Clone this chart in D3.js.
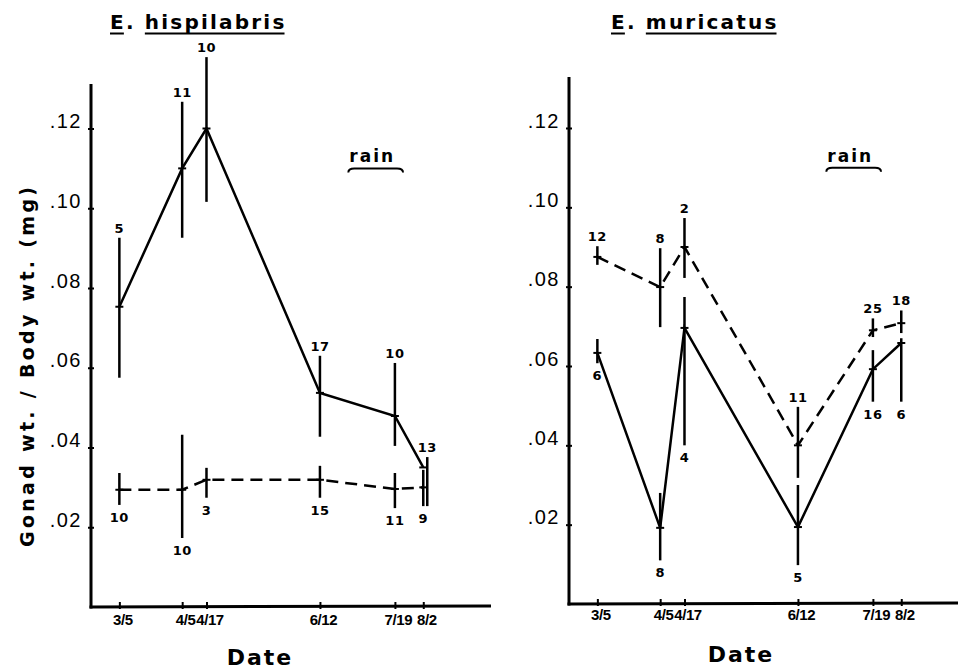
<!DOCTYPE html>
<html><head><meta charset="utf-8">
<script src="https://cdn.jsdelivr.net/npm/d3@7"></script>
<style>html,body{margin:0;padding:0;background:#fff}</style>
</head><body><svg id="chart" width="958" height="669"></svg>
<script>
// ---------- data ----------
const dateLabels = ["3/5", "4/5", "4/17", "6/12", "7/19", "8/2"];
const yTickValues = [0.02, 0.04, 0.06, 0.08, 0.10, 0.12];
const rainPeriod = ["6/26", "7/23"];
const rainLevel = 0.110;

// E. hispilabris
const hispSolidMean = [0.0753, 0.110, 0.120, 0.0537, 0.0479, 0.035];
const hispSolidHi   = [0.0926, 0.1267, 0.1379, 0.063, 0.0612, 0.0376];
const hispSolidLo   = [0.0575, 0.0926, 0.1016, 0.0427, 0.0404, 0.0253];
const hispSolidN    = [5, 11, 10, 17, 10, 13];

const hispDashMean = [0.0294, 0.0294, 0.0319, 0.0319, 0.0296, 0.0300];
const hispDashHi   = [0.0336, 0.0432, 0.0349, 0.0354, 0.0336, 0.0344];
const hispDashLo   = [0.0256, 0.0173, 0.0274, 0.0274, 0.0248, 0.0253];
const hispDashN    = [10, 10, 3, 15, 11, 9];

// E. muricatus
const muriDashMean = [0.0875, 0.0799, 0.090, 0.040, 0.069, 0.0708];
const muriDashHi   = [0.0902, 0.0897, 0.0973, 0.0497, 0.072, 0.074];
const muriDashLo   = [0.0855, 0.0698, 0.0822, 0.0318, 0.0673, 0.0683];
const muriDashN    = [12, 8, 2, 11, 25, 18];

const muriSolidMean = [0.0633, 0.0192, 0.0696, 0.0194, 0.0592, 0.0658];
const muriSolidHi   = [0.0668, 0.028, 0.0774, 0.030, 0.064, 0.067];
const muriSolidLo   = [0.0607, 0.011, 0.040, 0.0098, 0.051, 0.051];
const muriSolidN    = [6, 8, 4, 5, 16, 6];

const YEAR = 1979;
const parseMD = s => { const [m, d] = s.split("/").map(Number); return new Date(YEAR, m - 1, d); };
const dates = dateLabels.map(parseMD);

// ---------- layout ----------
const panels = [
  { name: "hispilabris", ox: 91, y0: 607, y12: 128.5, yTop: 84, xEnd: 491, titleX: 110, xLabelDy: 18, dateX: 260,
    series: [
      { mean: hispSolidMean, hi: hispSolidHi, lo: hispSolidLo, n: hispSolidN, dashed: false, label: "above" },
      { mean: hispDashMean, hi: hispDashHi, lo: hispDashLo, n: hispDashN, dashed: true, label: "below" } ] },
  { name: "muricatus", ox: 569, y0: 604, y12: 128, yTop: 77, xEnd: 958, titleX: 611, xLabelDy: 16, dateX: 741,
    series: [
      { mean: muriSolidMean, hi: muriSolidHi, lo: muriSolidLo, n: muriSolidN, dashed: false, label: "below" },
      { mean: muriDashMean, hi: muriDashHi, lo: muriDashLo, n: muriDashN, dashed: true, label: "above" } ] }
];

const svg = d3.select("#chart");
const FONT = "'DejaVu Sans', sans-serif";

panels.forEach(p => {
  const g = svg.append("g");
  const x = d3.scaleTime().domain([new Date(YEAR, 1, 19), new Date(YEAR, 7, 30)]).range([p.ox, p.ox + 389]);
  const y = d3.scaleLinear().domain([0, 0.12]).range([p.y0, p.y12]);

  // axes lines
  g.append("line").attr("x1", p.ox).attr("x2", p.ox).attr("y1", p.yTop).attr("y2", p.y0 + 1.5)
    .attr("stroke", "#000").attr("stroke-width", 3);
  g.append("line").attr("x1", p.ox - 1.5).attr("x2", p.xEnd).attr("y1", p.y0).attr("y2", p.y0 - 1)
    .attr("stroke", "#000").attr("stroke-width", 3);

  // y axis
  const ya = g.append("g").attr("transform", `translate(${p.ox},0)`)
    .call(d3.axisLeft(y).tickValues(yTickValues).tickSize(0).tickPadding(9)
      .tickFormat(d => d3.format(".2f")(d).replace(/^0/, "")));
  ya.select(".domain").remove();
  ya.selectAll(".tick").append("line").attr("x1", -3).attr("x2", 3).attr("stroke", "#000").attr("stroke-width", 2);
  ya.selectAll(".tick text").attr("dy", "-0.05em").attr("font-family", "'Liberation Sans', Arial, sans-serif")
    .attr("font-size", 20).attr("letter-spacing", 1.5).attr("fill", "#000");

  // x axis
  const xa = g.append("g").attr("transform", `translate(0,${p.y0})`)
    .call(d3.axisBottom(x).tickValues(dates).tickSize(0).tickPadding(0)
      .tickFormat((d, i) => dateLabels[i]));
  xa.select(".domain").remove();
  xa.selectAll(".tick").append("line").attr("y1", -5).attr("y2", 2).attr("stroke", "#000").attr("stroke-width", 2);
  xa.selectAll(".tick text").attr("x", 3).attr("y", p.xLabelDy).attr("dy", 0)
    .attr("font-family", "'Liberation Sans', Arial, sans-serif")
    .attr("font-weight", "bold").attr("font-size", 15).attr("letter-spacing", -0.4).attr("fill", "#000");

  // "Date"
  g.append("text").attr("x", p.dateX).attr("y", p.y0 + 58).attr("text-anchor", "middle")
    .attr("font-family", FONT).attr("font-weight", "bold").attr("font-size", 22).attr("letter-spacing", 2)
    .text("Date");

  // title with underlines
  const t = g.append("text").attr("x", p.titleX).attr("y", 29).attr("font-family", FONT)
    .attr("font-weight", "bold").attr("font-size", 20).attr("letter-spacing", 2.2);
  const parts = ["E", ". ", p.name];
  parts.forEach(s => t.append("tspan").text(s));
  const tn = t.node();
  const ulSegs = [[0, 1], [3, 3 + p.name.length]];
  ulSegs.forEach(([a, b]) => {
    const x0 = tn.getStartPositionOfChar(a).x;
    const ext = tn.getExtentOfChar(b - 1);
    const x1 = ext.x + ext.width - 2;
    g.append("line").attr("x1", x0).attr("x2", x1).attr("y1", 33.5).attr("y2", 33.5)
      .attr("stroke", "#000").attr("stroke-width", 2);
  });

  // rain bracket
  const rx0 = x(parseMD(rainPeriod[0])), rx1 = x(parseMD(rainPeriod[1])), ry = y(rainLevel);
  g.append("text").attr("x", rx0 + 1).attr("y", ry - 6).attr("font-family", FONT).attr("font-weight", "bold")
    .attr("font-size", 17).attr("letter-spacing", 2).text("rain");
  g.append("path").attr("fill", "none").attr("stroke", "#000").attr("stroke-width", 2)
    .attr("d", `M${rx0},${ry + 4} Q${rx0},${ry} ${rx0 + 6},${ry} L${rx1 - 6},${ry} Q${rx1},${ry} ${rx1},${ry + 4}`);

  // series
  const line = d3.line().x((d, i) => x(dates[i])).y(d => y(d));
  p.series.forEach((s, si) => {
    const other = p.series[1 - si];
    g.append("path").datum(s.mean).attr("d", line).attr("fill", "none").attr("stroke", "#000")
      .attr("stroke-width", 2.5).attr("stroke-dasharray", s.dashed ? "12,7" : null);
    s.mean.forEach((v, i) => {
      const overlap = !(s.lo[i] > other.hi[i] || s.hi[i] < other.lo[i]);
      const dx = overlap && !s.dashed ? 4 : 0;
      const cx = x(dates[i]) + dx;
      g.append("line").attr("x1", cx).attr("x2", cx).attr("y1", y(s.hi[i])).attr("y2", y(s.lo[i]))
        .attr("stroke", "#000").attr("stroke-width", 2.5);
      g.append("line").attr("x1", x(dates[i]) - 4).attr("x2", x(dates[i]) + 4).attr("y1", y(v)).attr("y2", y(v))
        .attr("stroke", "#000").attr("stroke-width", 2);
      const ly = s.label === "above" ? y(s.hi[i]) - 5 : y(s.lo[i]) + 17;
      g.append("text").attr("x", cx).attr("y", ly).attr("text-anchor", "middle")
        .attr("font-family", FONT).attr("font-weight", "bold").attr("font-size", 13).attr("letter-spacing", 0.5)
        .text(s.n[i]);
    });
  });
});

// y-axis title
svg.append("text").attr("transform", "translate(27,367) rotate(-90)").attr("text-anchor", "middle")
  .attr("dominant-baseline", "central").attr("font-family", FONT).attr("font-weight", "bold")
  .attr("font-size", 19).attr("textLength", 360).attr("lengthAdjust", "spacing")
  .text("Gonad wt. / Body wt. (mg)");
</script></body></html>
